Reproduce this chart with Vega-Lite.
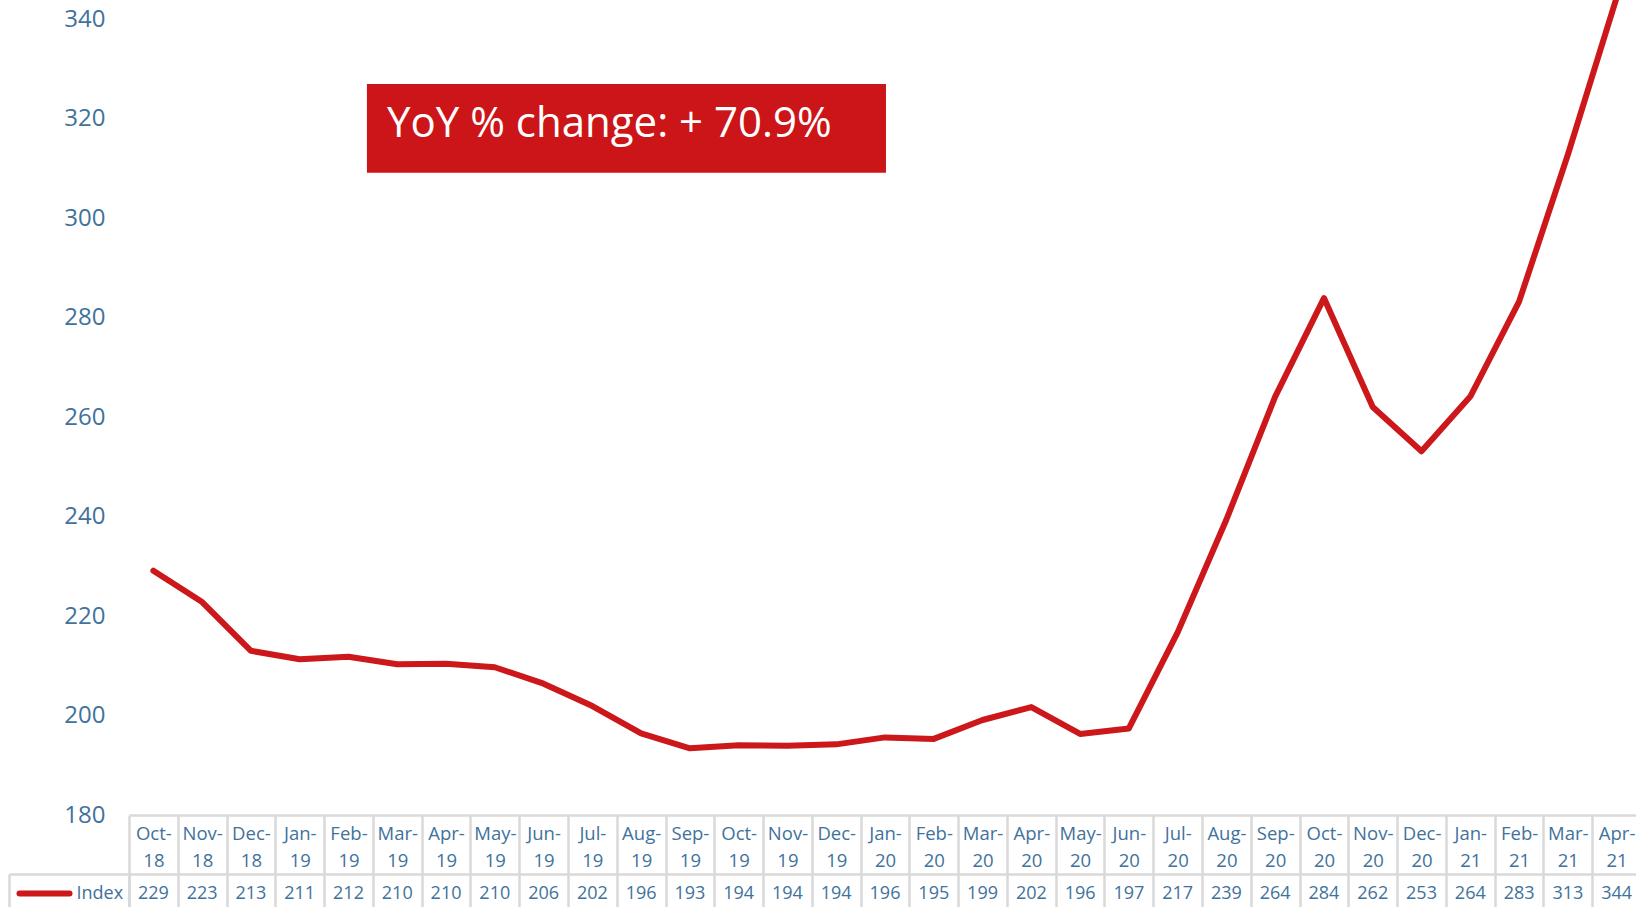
{
  "$schema": "https://vega.github.io/schema/vega-lite/v6.json",
  "padding": {"left": 7, "top": 0, "right": 0, "bottom": 0},
  "bounds": "flush",
  "spacing": 59,
  "config": {"view": {"stroke": null}, "font": "Open Sans"},
  "data": {"values": [
    {"month": "Oct-18", "value": 229.1, "series": "Index"},
    {"month": "Nov-18", "value": 222.8, "series": "Index"},
    {"month": "Dec-18", "value": 213.0, "series": "Index"},
    {"month": "Jan-19", "value": 211.3, "series": "Index"},
    {"month": "Feb-19", "value": 211.8, "series": "Index"},
    {"month": "Mar-19", "value": 210.3, "series": "Index"},
    {"month": "Apr-19", "value": 210.4, "series": "Index"},
    {"month": "May-19", "value": 209.7, "series": "Index"},
    {"month": "Jun-19", "value": 206.4, "series": "Index"},
    {"month": "Jul-19", "value": 201.9, "series": "Index"},
    {"month": "Aug-19", "value": 196.4, "series": "Index"},
    {"month": "Sep-19", "value": 193.4, "series": "Index"},
    {"month": "Oct-19", "value": 194.0, "series": "Index"},
    {"month": "Nov-19", "value": 193.9, "series": "Index"},
    {"month": "Dec-19", "value": 194.2, "series": "Index"},
    {"month": "Jan-20", "value": 195.6, "series": "Index"},
    {"month": "Feb-20", "value": 195.3, "series": "Index"},
    {"month": "Mar-20", "value": 199.1, "series": "Index"},
    {"month": "Apr-20", "value": 201.7, "series": "Index"},
    {"month": "May-20", "value": 196.3, "series": "Index"},
    {"month": "Jun-20", "value": 197.4, "series": "Index"},
    {"month": "Jul-20", "value": 216.7, "series": "Index"},
    {"month": "Aug-20", "value": 239.4, "series": "Index"},
    {"month": "Sep-20", "value": 264.1, "series": "Index"},
    {"month": "Oct-20", "value": 283.9, "series": "Index"},
    {"month": "Nov-20", "value": 262.0, "series": "Index"},
    {"month": "Dec-20", "value": 253.1, "series": "Index"},
    {"month": "Jan-21", "value": 264.1, "series": "Index"},
    {"month": "Feb-21", "value": 283.2, "series": "Index"},
    {"month": "Mar-21", "value": 312.7, "series": "Index"},
    {"month": "Apr-21", "value": 344.3, "series": "Index"}
  ]},
  "vconcat": [
    {
      "width": 1512,
      "height": 815,
      "layer": [
        {
          "mark": {"type": "line", "color": "#cc171b", "strokeWidth": 6, "strokeCap": "round", "strokeJoin": "round", "clip": true},
          "encoding": {
            "x": {
              "field": "month", "type": "nominal", "title": null,
              "scale": {"type": "band", "paddingInner": 0, "paddingOuter": 0,
                "domain": ["Oct-18","Nov-18","Dec-18","Jan-19","Feb-19","Mar-19","Apr-19","May-19","Jun-19","Jul-19","Aug-19","Sep-19","Oct-19","Nov-19","Dec-19","Jan-20","Feb-20","Mar-20","Apr-20","May-20","Jun-20","Jul-20","Aug-20","Sep-20","Oct-20","Nov-20","Dec-20","Jan-21","Feb-21","Mar-21","Apr-21"]},
              "axis": {
                "orient": "bottom", "title": null, "labelAngle": 0,
                "labelExpr": "datum.label ? [split(datum.label, '-')[0] + '-', split(datum.label, '-')[1]] : ''",
                "labelFontSize": 18.5, "labelColor": "#41729c", "labelPadding": -50,
                "labelLineHeight": 27.7, "labelBaseline": "top",
                "domain": true, "domainColor": "#d9d9d9", "domainWidth": 2.5,
                "ticks": true, "tickColor": "#d9d9d9", "tickWidth": 2.5, "tickSize": 59, "tickBand": "extent",
                "grid": false
              }
            },
            "y": {
              "field": "value", "type": "quantitative", "title": null,
              "scale": {"domain": [180, 343.82], "nice": false, "zero": false},
              "axis": {
                "title": null, "values": [180, 200, 220, 240, 260, 280, 300, 320, 340],
                "domain": false, "ticks": false, "grid": false,
                "labelFontSize": 24, "labelColor": "#41729c", "labelPadding": 24
              }
            }
          }
        },
        {
          "data": {"values": [{"label": "YoY % change: + 70.9%"}]},
          "mark": {"type": "rect", "color": "#cc1518"},
          "encoding": {
            "x": {"datum": "Feb-19", "type": "nominal", "bandPosition": 0.878, "title": null},
            "x2": {"datum": "Jan-20", "bandPosition": 0.52},
            "y": {"datum": 326.94, "type": "quantitative", "title": null},
            "y2": {"datum": 309.1}
          }
        },
        {
          "data": {"values": [{"label": "YoY % change: + 70.9%"}]},
          "mark": {"type": "text", "color": "#ffffff", "fontSize": 42, "align": "left", "baseline": "alphabetic"},
          "encoding": {
            "x": {"datum": "Mar-19", "type": "nominal", "bandPosition": 0.29, "title": null},
            "y": {"datum": 316.2, "type": "quantitative", "title": null},
            "text": {"field": "label"}
          }
        }
      ]
    },
    {
      "width": 1512,
      "height": 33,
      "encoding": {
        "x": {
          "field": "month", "type": "nominal", "sort": null,
          "scale": {"type": "band", "paddingInner": 0, "paddingOuter": 0},
          "axis": {
            "orient": "top", "title": null, "labels": false, "ticks": false,
            "domain": true, "domainColor": "#d9d9d9", "domainWidth": 2.5,
            "grid": true, "gridColor": "#d9d9d9", "gridWidth": 2.5, "tickBand": "extent"
          }
        }
      },
      "layer": [
        {
          "mark": {"type": "text", "fontSize": 18, "color": "#41729c", "dy": 3},
          "encoding": {
            "y": {
              "field": "series", "type": "nominal",
              "scale": {"type": "band", "paddingInner": 0, "paddingOuter": 0},
              "axis": {
                "orient": "left", "title": null, "labels": false,
                "domain": true, "domainColor": "#d9d9d9", "domainWidth": 2.5,
                "ticks": true, "tickColor": "#d9d9d9", "tickWidth": 2.5, "tickSize": 120, "bandPosition": 0,
                "grid": false
              }
            },
            "text": {"field": "value", "type": "quantitative", "format": ".0f"}
          }
        },
        {
          "mark": {"type": "rect", "opacity": 0},
          "encoding": {
            "y": {
              "field": "series", "type": "nominal",
              "axis": {
                "orient": "left", "offset": 60, "title": null, "domain": false,
                "ticks": true, "tickColor": "#cc171b", "tickWidth": 6, "tickSize": 50, "tickCap": "round", "tickOffset": 2,
                "labels": true, "labelAlign": "left", "labelPadding": -57, "labelOffset": 1,
                "labelFontSize": 18, "labelColor": "#41729c", "grid": false
              }
            }
          }
        },
        {
          "mark": {"type": "rect", "opacity": 0},
          "encoding": {
            "y": {
              "field": "series", "type": "nominal",
              "axis": {
                "orient": "left", "offset": 120, "title": null,
                "domain": true, "domainColor": "#d9d9d9", "domainWidth": 2.5,
                "ticks": false, "labels": false, "grid": false
              }
            }
          }
        }
      ],
      "resolve": {"axis": {"y": "independent"}}
    }
  ]
}
